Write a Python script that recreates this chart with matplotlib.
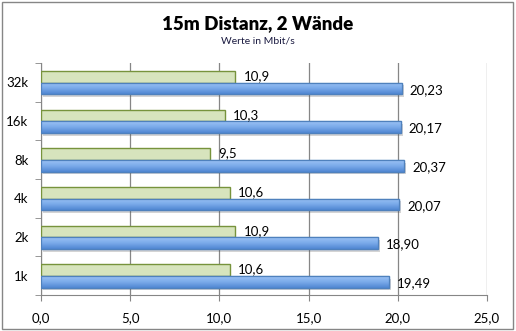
import numpy as np
import matplotlib.pyplot as plt
import matplotlib.patheffects as pe
from matplotlib.patches import Rectangle

# data (Mbit/s), bottom to top
categories = ['1k', '2k', '4k', '8k', '16k', '32k']
green_vals = [10.6, 10.9, 10.6, 9.5, 10.3, 10.9]
blue_vals = [19.49, 18.90, 20.07, 20.37, 20.17, 20.23]
green_labels = ['10,6', '10,9', '10,6', '9,5', '10,3', '10,9']
blue_labels = ['19,49', '18,90', '20,07', '20,37', '20,17', '20,23']
xticks = [0, 5, 10, 15, 20, 25]
xtick_labels = ['0,0', '5,0', '10,0', '15,0', '20,0', '25,0']

plt.rcParams['font.family'] = ['Lato', 'DejaVu Sans']

W, H = 516, 331
fig = plt.figure(figsize=(W / 100, H / 100), dpi=100)
ax = fig.add_axes([41 / W, 36 / H, (487 - 41) / W, (295 - 63) / H])

# outer frame
fig.patches.append(Rectangle((2 / W, 2 / H), 511 / W, 327 / H, transform=fig.transFigure,
                             fill=False, edgecolor='#868686', linewidth=1.0))

fig.text(0.5, 1 - 24 / H, '15m Distanz, 2 Wände', ha='center', va='center',
         fontsize=13.5, fontweight='heavy')
fig.text(0.5, 1 - 41 / H, 'Werte in Mbit/s', ha='center', va='center', fontsize=7.5,
         color='#1a1a40')

y = np.arange(len(categories))
h = 0.30
yg = y + 0.14
yb = y - 0.16

ax.barh(yg, green_vals, height=h, color='#D7E4BD', edgecolor='#77933C', linewidth=1.0,
        zorder=3)

# blue bars with vertical gradient and soft shadow
blue_bars = ax.barh(yb, blue_vals, height=h, color='#6FA0E0', edgecolor='#4F81BD',
                    linewidth=0.9, zorder=3,
                    path_effects=[pe.SimplePatchShadow(offset=(1.5, -2), alpha=0.25,
                                                       shadow_rgbFace='#555555'),
                                  pe.Normal()])
grad = np.linspace(0, 1, 64).reshape(-1, 1)
cmap = plt.matplotlib.colors.LinearSegmentedColormap.from_list(
    'bl', ['#9DC3F5', '#7AAAEA', '#4F86D2'])
for bar, yy, v in zip(blue_bars, yb, blue_vals):
    im = ax.imshow(grad, cmap=cmap, aspect='auto', origin='upper',
                   extent=[0, v, yy - h / 2, yy + h / 2], zorder=3.5)
    im.set_clip_path(bar)
    ax.add_patch(Rectangle((0, yy - h / 2), v, h, fill=False, edgecolor='#4F81BD',
                           linewidth=0.9, zorder=3.6))

for yy, v, lab in zip(yg, green_vals, green_labels):
    ax.text(v + 0.45, yy + 0.02, lab, va='center', ha='left', fontsize=9.5, zorder=5)
for yy, v, lab in zip(yb, blue_vals, blue_labels):
    ax.text(v + 0.45, yy - 0.03, lab, va='center', ha='left', fontsize=9.5, zorder=5)

ax.set_xlim(0, 25)
ax.set_ylim(-0.5, len(categories) - 0.5)
ax.set_xticks(xticks)
ax.set_xticklabels(xtick_labels, fontsize=9.5)
ax.set_yticks(y)
ax.set_yticklabels(categories, fontsize=9.5)
ax.set_yticks(np.arange(-0.5, len(categories)), minor=True)
ax.tick_params(axis='y', which='major', length=0, pad=9)
ax.tick_params(axis='y', which='minor', length=4, color='#868686')
ax.tick_params(axis='x', length=4, color='#868686', pad=8)

ax.grid(axis='x', color='#868686', linewidth=0.9, zorder=0)
ax.set_axisbelow(True)
for s in ['top', 'right']:
    ax.spines[s].set_visible(False)
for s in ['left', 'bottom']:
    ax.spines[s].set_color('#868686')

fig.savefig('out.png', dpi=100)
